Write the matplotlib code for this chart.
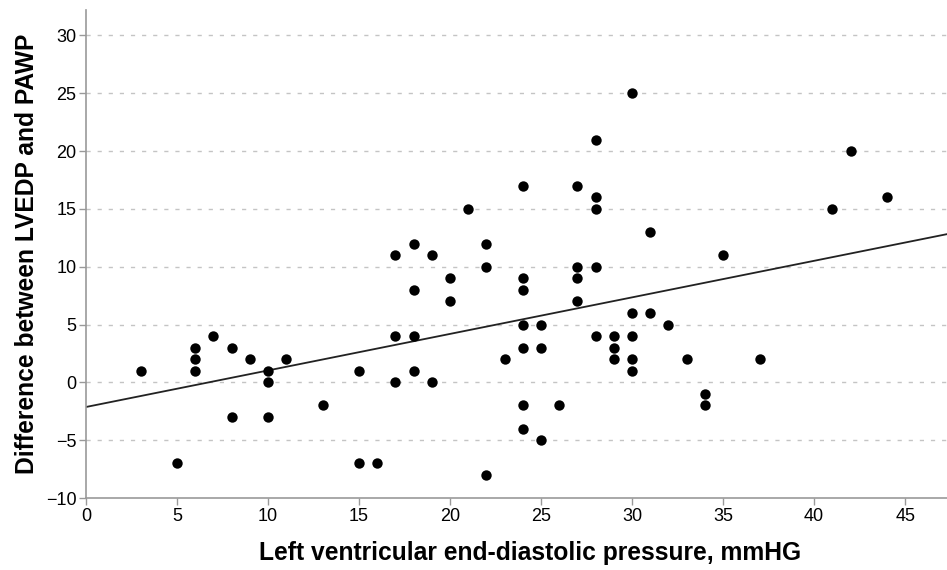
import numpy as np
import matplotlib
matplotlib.use("Agg")
import matplotlib.pyplot as plt

# LVEDP (mmHg) and the LVEDP - PAWP difference
lvedp = [3, 5, 6, 6, 6, 7, 8, 8, 9, 10, 10, 10, 11, 13, 15, 15, 16,
         17, 17, 17, 18, 18, 18, 18, 19, 19, 20, 20, 21, 22, 22, 22, 23,
         24, 24, 24, 24, 24, 24, 24, 25, 25, 25, 26, 27, 27, 27, 27,
         28, 28, 28, 28, 28, 29, 29, 29, 30, 30, 30, 30, 30, 31, 31,
         32, 33, 34, 34, 35, 37, 41, 42, 44]
diff = [1, -7, 3, 2, 1, 4, 3, -3, 2, 1, 0, -3, 2, -2, 1, -7, -7,
        11, 4, 0, 12, 8, 4, 1, 11, 0, 9, 7, 15, 12, 10, -8, 2,
        17, 9, 8, 5, 3, -2, -4, 5, 3, -5, -2, 17, 10, 9, 7,
        21, 16, 15, 10, 4, 4, 3, 2, 25, 6, 4, 2, 1, 13, 6,
        5, 2, -1, -2, 11, 2, 15, 20, 16]

# regression line as drawn in the figure (intercept, slope)
fit_intercept = -2.13
fit_slope = 0.316

x_ticks = [0, 5, 10, 15, 20, 25, 30, 35, 40, 45]
y_ticks = [-10, -5, 0, 5, 10, 15, 20, 25, 30]

plt.rcParams['font.family'] = ['Liberation Sans', 'DejaVu Sans']

fig = plt.figure(figsize=(9.47, 5.70), dpi=100)
ax = fig.add_axes([0.0908, 0.1263, 0.9092, 0.8562])

xlim = (0, 47.3)
xs = np.array(xlim)
ax.plot(xs, fit_intercept + fit_slope * xs, color='#222222', linewidth=1.3, zorder=2)

ax.scatter(lvedp, diff, s=56, color='black', zorder=3, linewidths=0)

ax.set_xlim(*xlim)
ax.set_ylim(-10, 32.2)
ax.set_xticks(x_ticks)
ax.set_yticks(y_ticks)
ax.set_yticklabels([str(v).replace('-', '\u2212') for v in y_ticks])

for y in y_ticks[1:]:
    ax.axhline(y, color='#c4c4c4', linewidth=1.0, linestyle=(0, (3, 5)), zorder=1)

for side in ['top', 'right']:
    ax.spines[side].set_visible(False)
for side in ['left', 'bottom']:
    ax.spines[side].set_color('#999999')
    ax.spines[side].set_linewidth(1.2)

ax.tick_params(axis='both', direction='out', length=5, width=1, color='#999999',
               labelsize=13, labelcolor='black', pad=2)

ax.set_xlabel('Left ventricular end-diastolic pressure, mmHG',
              fontsize=17.7, fontweight='bold', labelpad=12)
ax.xaxis.label.set_x(0.516)
ax.set_ylabel('Difference between LVEDP and PAWP',
              fontsize=17.7, fontweight='bold', labelpad=5)

plt.savefig('out.png', dpi=100)
